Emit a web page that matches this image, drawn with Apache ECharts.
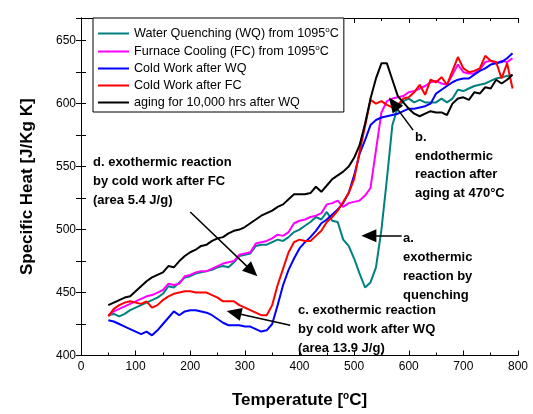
<!DOCTYPE html>
<html>
<head>
<meta charset="utf-8">
<script src="https://cdn.jsdelivr.net/npm/echarts@6/dist/echarts.min.js"></script>
<style>html,body{margin:0;padding:0;background:#fff}#c{width:533px;height:414px}</style>
</head>
<body>
<div id="c"></div>
<script>
var temps = [50,60,70,80,90,100,110,120,130,140,150,160,170,180,190,200,210,220,230,240,250,260,270,280,290,300,310,320,330,340,350,360,370,380,390,400,410,420,430,440,450,460,470,480,490,500,510,520,530,540,550,560,570,580,590,600,610,620,630,640,650,660,670,680,690,700,710,720,730,740,750,760,770,780,790];

var wq = [432,433,431,433,436,438,440,442,444,446,449,455,454,458,462,463,465,466,467,468,470,471,470,474,479,480,481,487,488,488,490,492,491,494,498,500,503,506,510,508,514,507,506,492,487,477,465,454,458,470,500,540,583,597,602,604,601,603,601,601,601,604,601,604,611,610,612,614,615,616,618,620,621,622,623];

var fc = [432,435,437,439,441,443,445,447,448,450,452,457,456,457,463,464,466,467,467,469,471,473,474,475,480,481,482,489,490,491,493,496,495,498,505,507,508,510,511,513,520,521,523,518,521,522,523,527,533,563,593,602,604,605,606,609,610,612,614,617,618,616,615,623,631,625,624,624,627,633,634,632,634,633,636];

var cwWq = [428,427,425,423,421,419,417,419,416,420,425,430,435,432,435,436,436,435,434,432,429,426,424,424,424,423,423,421,419,420,425,440,456,468,477,485,490,494,499,505,508,512,516,521,529,543,560,571,583,587,589,590,591,592,594,596,596,597,598,600,608,611,614,617,619,620,620,623,626,628,631,632,633,636,640];

var cwFc = [431,437,440,442,443,442,441,443,438,440,444,447,449,450,451,451,450,450,450,448,446,443,443,443,440,438,436,434,432,432,440,456,469,482,490,492,491,491,495,499,506,510,515,522,529,540,562,582,603,600,602,599,597,599,604,605,609,615,607,619,617,621,615,626,637,628,625,626,628,638,634,633,620,632,612];

var aging = [440,442,444,446,447,451,455,459,462,464,466,471,470,475,479,482,484,487,488,491,493,494,497,499,500,502,505,508,511,513,515,518,520,524,528,528,528,529,534,530,535,540,543,546,550,557,567,584,604,620,632,632,619,606,601,596,592,590,592,594,593,593,591,600,604,605,603,609,608,613,612,619,616,619,623];

var seriesNames = ['Water Quenching (WQ) from 1095°C','Furnace Cooling (FC) from 1095°C','Cold Work after WQ','Cold Work after FC','aging for 10,000 hrs after WQ'];
var seriesColors = ['#008080','#ff00ff','#0000ff','#ff0000','#000000'];
var seriesValues = [wq, fc, cwWq, cwFc, aging];

var xTicks = {min:0, max:800, interval:100};
var yTicks = {min:400, max:668, interval:25, labelStep:50};

var FONT = 'Liberation Sans, Arial, sans-serif';

function pairs(vals){ return temps.map(function(t,i){ return [t, vals[i]]; }); }

var arrows = [
  [[587,495],[527,495]],
  [[608,579],[572,600]],
  [[383,424],[280,434]],
  [[200,514],[313,467]]
];

var series = seriesNames.map(function(n,i){
  return {
    name:n, type:'line', data:pairs(seriesValues[i]), symbol:'none',
    lineStyle:{width:2,color:seriesColors[i]}, itemStyle:{color:seriesColors[i]},
    animation:false, z: 2
  };
});
series.push({
  type:'line', data:[], silent:true,
  markLine:{
    silent:true, animation:false, symbol:['none','triangle'], symbolSize:[13,15],
    label:{show:false},
    lineStyle:{color:'#000',width:1.5,type:'solid'},
    data: arrows.map(function(a){ return [{coord:a[0]},{coord:a[1]}]; })
  }
});

var axisCommon = {
  axisLine:{lineStyle:{color:'#000',width:1}},
  axisTick:{inside:true,length:5,lineStyle:{color:'#000'}},
  splitLine:{show:false}
};

var chart = echarts.init(document.getElementById('c'), null, {renderer:'canvas'});
chart.setOption({
  backgroundColor:'#fff',
  animation:false,
  grid:{left:81,right:15,top:18,bottom:57,containLabel:false},
  legend:{
    orient:'vertical', left:93, top:18,
    padding:[8,5,3,5], itemGap:4, itemWidth:31, itemHeight:2, icon:'rect',
    borderColor:'#000', borderWidth:1, backgroundColor:'#fff',
    data:seriesNames,
    textStyle:{fontFamily:FONT,fontSize:12.6,color:'#000',
      rich:{t:{fontFamily:FONT,fontSize:12.6,color:'#000',lineHeight:15},s:{fontFamily:FONT,fontSize:8,color:'#000',verticalAlign:'top',padding:[0,0,6,0]}}},
    formatter:function(n){
      if(n.indexOf('°C')>=0){ return '{t|'+n.replace('°C','')+'}{s|o}{t|C}'; }
      return '{t|'+n+'}';
    }
  },
  xAxis:[
    Object.assign({}, axisCommon, {
      type:'value', min:xTicks.min, max:xTicks.max, interval:xTicks.interval,
      minorTick:{show:true,splitNumber:2,length:3,lineStyle:{color:'#000'}},
      axisLabel:{fontFamily:FONT,fontSize:12,color:'#000',margin:5},
      name:'Temperatute [{s|o}C]', nameLocation:'middle', nameGap:36,
      nameTextStyle:{fontFamily:FONT,fontSize:17,fontWeight:'bold',color:'#000',
        rich:{s:{fontFamily:FONT,fontSize:10,fontWeight:'bold',color:'#000',verticalAlign:'top',padding:[0,0,8,0]}}}
    }),
    Object.assign({}, axisCommon, {
      type:'value', position:'top', min:xTicks.min, max:xTicks.max, interval:xTicks.interval,
      minorTick:{show:true,splitNumber:2,length:3,lineStyle:{color:'#000'}},
      axisLabel:{show:false}
    })
  ],
  yAxis:[
    Object.assign({}, axisCommon, {
      type:'value', min:yTicks.min, max:yTicks.max, interval:yTicks.interval,
      axisLabel:{fontFamily:FONT,fontSize:12,color:'#000',margin:5,
        formatter:function(v){ return (v % yTicks.labelStep === 0) ? String(v) : ''; }},
      name:'Specific Heat [J/Kg K]', nameLocation:'middle', nameGap:45,
      nameTextStyle:{fontFamily:FONT,fontSize:17,fontWeight:'bold',color:'#000'}
    }),
    Object.assign({}, axisCommon, {
      type:'value', position:'right', min:yTicks.min, max:yTicks.max, interval:yTicks.interval,
      axisLabel:{show:false}
    })
  ],
  graphic:[
    {type:'text', x:93, y:153, z:10, style:{text:'d. exothermic reaction\nby cold work after FC\n(area 5.4 J/g)', font:'bold 13px '+FONT, fill:'#000', lineHeight:19, verticalAlign:'top'}},
    {type:'text', x:415, y:128, z:10, style:{text:'b.\nendothermic\nreaction after\naging at 470°C', font:'bold 13px '+FONT, fill:'#000', lineHeight:18.7, verticalAlign:'top'}},
    {type:'text', x:403, y:229, z:10, style:{text:'a.\nexothermic\nreaction by\nquenching', font:'bold 13px '+FONT, fill:'#000', lineHeight:19, verticalAlign:'top'}},
    {type:'text', x:298, y:301, z:10, style:{text:'c. exothermic reaction\nby cold work after WQ\n(area 13.9 J/g)', font:'bold 13px '+FONT, fill:'#000', lineHeight:19, verticalAlign:'top'}}
  ],
  series:series
});
</script>
</body>
</html>
